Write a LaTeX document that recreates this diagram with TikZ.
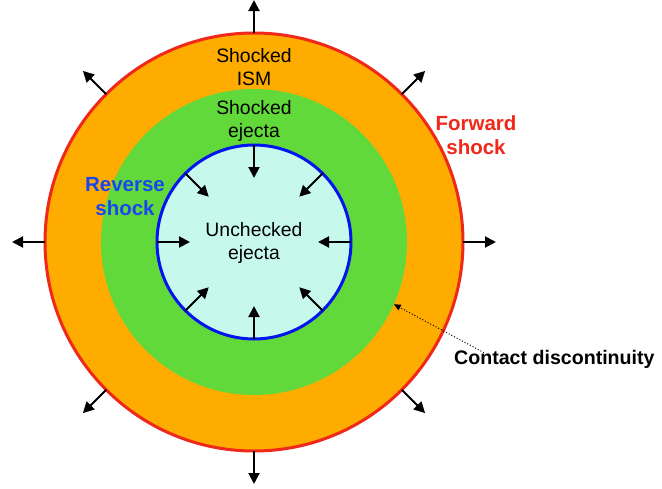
\documentclass[tikz,border=0pt]{standalone}
\usepackage{fontspec}
\setmainfont{Liberation Sans}
\usetikzlibrary{arrows.meta,calc}
\definecolor{ismorange}{RGB}{255,172,0}
\definecolor{ejgreen}{RGB}{98,217,58}
\definecolor{corecyan}{RGB}{198,248,235}
\definecolor{fwdred}{RGB}{240,40,25}
\definecolor{revblue}{RGB}{0,20,240}
\definecolor{revtext}{RGB}{25,70,240}
\begin{document}
\begin{tikzpicture}[x=1pt,y=-1pt,
  shell/.style={circle,inner sep=0pt,outer sep=0pt},
  lbl/.style={align=center,inner sep=0pt,font=\fontsize{19.4}{23}\selectfont},
  blbl/.style={lbl,font=\fontsize{20.5}{24}\selectfont\bfseries},
  flow/.style={line width=2pt,-{Triangle[length=11pt,width=11pt]}},
  pointer/.style={line width=1pt,dotted,-{Triangle[length=7pt,width=6pt]}}]
\useasboundingbox (0,0) rectangle (662,488);
\coordinate (c) at (254,242);
\node[shell,fill=ismorange,draw=fwdred,line width=3pt,minimum size=418pt] (fs) at (c) {};
\node[shell,fill=ejgreen,minimum size=306pt] (ej) at (c) {};
\node[shell,fill=corecyan,draw=revblue,line width=3pt,minimum size=194pt] (rs) at (c) {};
\foreach \a in {0,45,...,315}{
  \draw[flow] (fs.\a) -- ($(c)+(\a:242pt)$);
  \draw[flow] (rs.\a) -- ($(c)+(\a:64pt)$);
}
\node[lbl] (ism) at (254,67) {Shocked\\ISM};
\node[lbl] (sej) at (254,121) {Shocked\\ejecta};
\node[lbl] (uej) at (254,243) {Unchecked\\ejecta};
\node[blbl,text=revtext] (rsl) at (125,197) {Reverse\\shock};
\node[blbl,text=fwdred] (fsl) at (476,135) {Forward\\shock};
\node[blbl,anchor=west,font=\fontsize{19.6}{24}\selectfont\bfseries] (cd) at (454,359) {Contact discontinuity};
\draw[pointer] ([xshift=30pt,yshift=-3pt]cd.north west) -- (ej.336);
\end{tikzpicture}
\end{document}
